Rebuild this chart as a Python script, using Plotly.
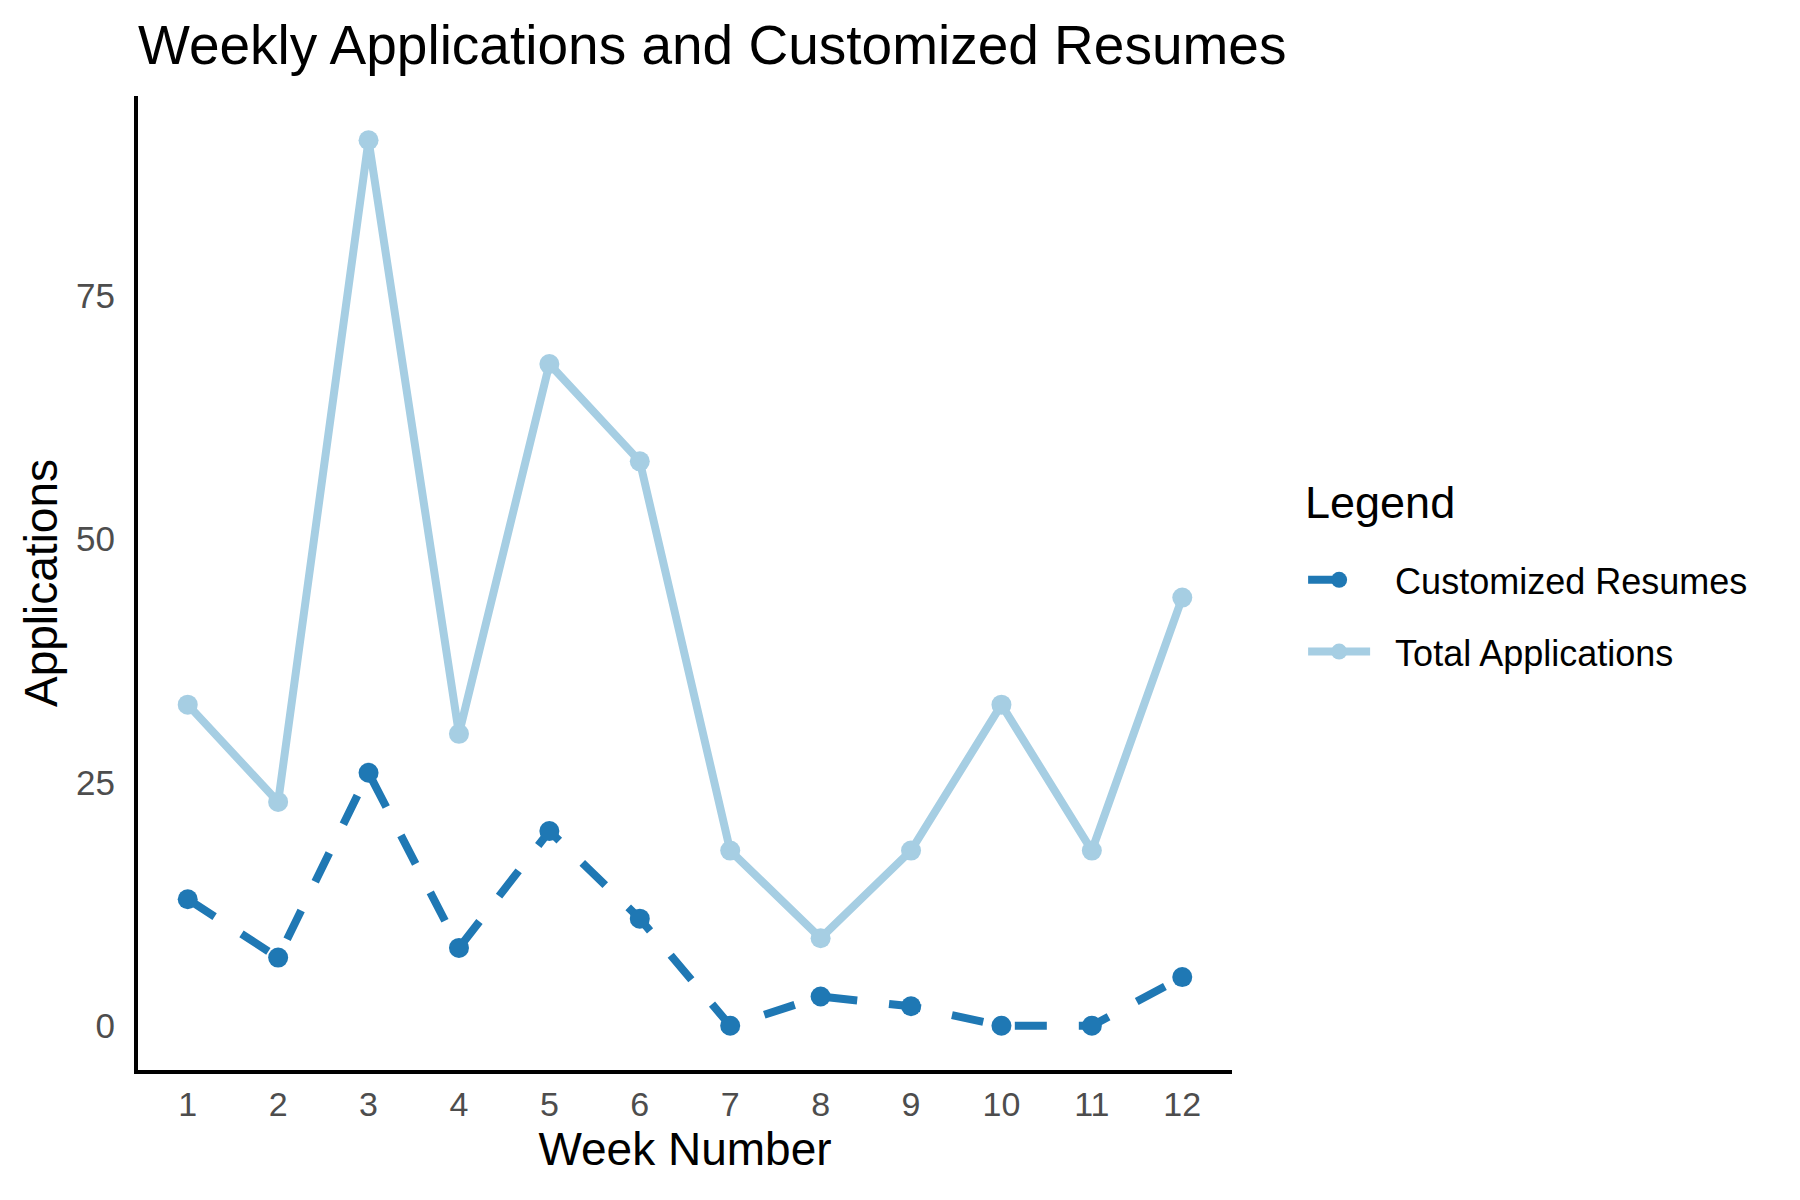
import plotly.graph_objects as go

weeks = [1, 2, 3, 4, 5, 6, 7, 8, 9, 10, 11, 12]
total_applications = [33, 23, 91, 30, 68, 58, 18, 9, 18, 33, 18, 44]
customized_resumes = [13, 7, 26, 8, 20, 11, 0, 3, 2, 0, 0, 5]
y_ticks = [0, 25, 50, 75]

FONT = "Liberation Sans, Arial, Helvetica, sans-serif"
NB = "\u00a0\u00a0"
fig = go.Figure()

fig.add_trace(go.Scatter(
    x=weeks, y=customized_resumes, name=NB + "Customized Resumes",
    mode="lines+markers", legendgroup="a",
    line=dict(color="#1F78B4", width=8, dash="32px,32px"),
    marker=dict(color="#1F78B4", size=20),
))
fig.add_trace(go.Scatter(
    x=weeks, y=total_applications, name=NB + "Total Applications",
    mode="lines+markers", legendgroup="b",
    line=dict(color="#A6CEE3", width=8),
    marker=dict(color="#A6CEE3", size=20),
))

fig.update_layout(
    width=1800, height=1200,
    paper_bgcolor="white", plot_bgcolor="white",
    margin=dict(l=130, r=576, t=88, b=138),
    font=dict(family=FONT, color="black"),
    title=dict(text="Weekly Applications and Customized Resumes",
               x=130/1800, xanchor="left", y=1-36.5/1200, yanchor="middle",
               font=dict(size=55, color="black")),
    xaxis=dict(range=[0.45, 12.55], tickvals=weeks, showgrid=False, zeroline=False,
               showline=True, linecolor="black", linewidth=4,
               ticks="", ticklabelstandoff=1,
               tickfont=dict(size=34, color="#4D4D4D"),
               title=dict(text="Week Number", font=dict(size=46, color="black"), standoff=12)),
    yaxis=dict(range=[-4.55, 95.55], tickvals=y_ticks, showgrid=False, zeroline=False,
               showline=True, linecolor="black", linewidth=4,
               ticks="", ticklabelstandoff=12,
               tickfont=dict(size=35, color="#4D4D4D"),
               title=dict(text="Applications", font=dict(size=46, color="black"), standoff=5)),
    legend=dict(x=1.065, xanchor="left", y=0.534, yanchor="top",
                traceorder="grouped", tracegroupgap=22, itemwidth=62,
                font=dict(size=36, color="black")),
    showlegend=True,
)

fig.add_annotation(text="Legend", xref="paper", yref="paper",
                   x=1.065, xanchor="left", y=1 - (494 - 88) / 974, yanchor="middle",
                   showarrow=False, font=dict(size=45, color="black"))

fig.write_html("out.html")
